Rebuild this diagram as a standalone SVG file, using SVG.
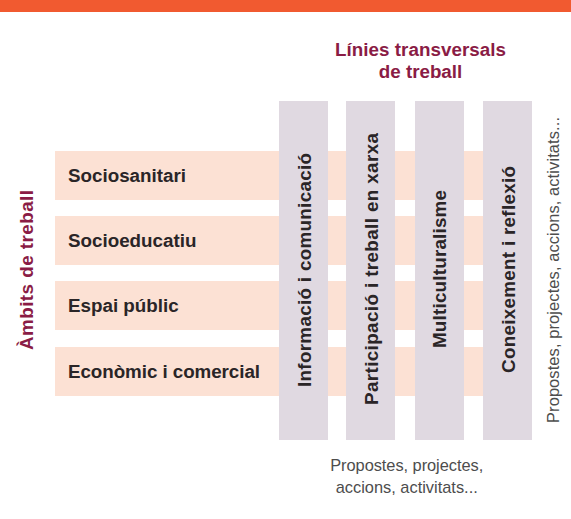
<svg xmlns="http://www.w3.org/2000/svg" width="571" height="519" viewBox="0 0 571 519">
<style>
.row{fill:#FCE1D4}
.col{fill:#E0D9E1}
.b{font-family:"Liberation Sans",Arial,sans-serif;font-weight:bold;font-size:18.8px;fill:#2A2527}
.h{font-family:"Liberation Sans",Arial,sans-serif;font-weight:bold;font-size:18.8px;fill:#8A1C45}
.r{font-family:"Liberation Sans",Arial,sans-serif;font-size:16.4px;fill:#4D4D4D}
</style>
<rect x="0" y="0" width="571" height="12" fill="#F15A30"/>
<g id="title">
<text class="h" x="420.5" y="56" text-anchor="middle" textLength="171">Línies transversals</text>
<text class="h" x="420.5" y="77.5" text-anchor="middle">de treball</text>
</g>
<g id="ambits-label">
<text class="h" transform="translate(33,270) rotate(-90)" text-anchor="middle" textLength="160">Àmbits de treball</text>
</g>
<g id="row1"><rect class="row" x="55" y="151" width="428" height="49"/><text class="b" x="68" y="181.5">Sociosanitari</text></g>
<g id="row2"><rect class="row" x="55" y="216" width="428" height="49"/><text class="b" x="68" y="246.5">Socioeducatiu</text></g>
<g id="row3"><rect class="row" x="55" y="281" width="428" height="49"/><text class="b" x="68" y="311.5">Espai públic</text></g>
<g id="row4"><rect class="row" x="55" y="347" width="428" height="49"/><text class="b" x="68" y="377.5" textLength="192">Econòmic i comercial</text></g>
<g id="col1"><rect class="col" x="279" y="101" width="49" height="339"/><text class="b" transform="translate(310.7,270) rotate(-90)" text-anchor="middle" textLength="234">Informació i comunicació</text></g>
<g id="col2"><rect class="col" x="346" y="101" width="49" height="339"/><text class="b" transform="translate(377.5,269) rotate(-90)" text-anchor="middle" textLength="272">Participació i treball en xarxa</text></g>
<g id="col3"><rect class="col" x="415" y="101" width="49" height="339"/><text class="b" transform="translate(445.5,269) rotate(-90)" text-anchor="middle" textLength="158">Multiculturalisme</text></g>
<g id="col4"><rect class="col" x="483" y="101" width="49" height="339"/><text class="b" transform="translate(514.5,269.5) rotate(-90)" text-anchor="middle" textLength="207">Coneixement i reflexió</text></g>
<g id="right-label">
<text class="r" transform="translate(558.7,270) rotate(-90)" text-anchor="middle" textLength="306">Propostes, projectes, accions, activitats...</text>
</g>
<g id="bottom-label">
<text class="r" x="406.7" y="471" text-anchor="middle" textLength="153">Propostes, projectes,</text>
<text class="r" x="406.7" y="493" text-anchor="middle">accions, activitats...</text>
</g>
<g id="connectors"/>
</svg>
